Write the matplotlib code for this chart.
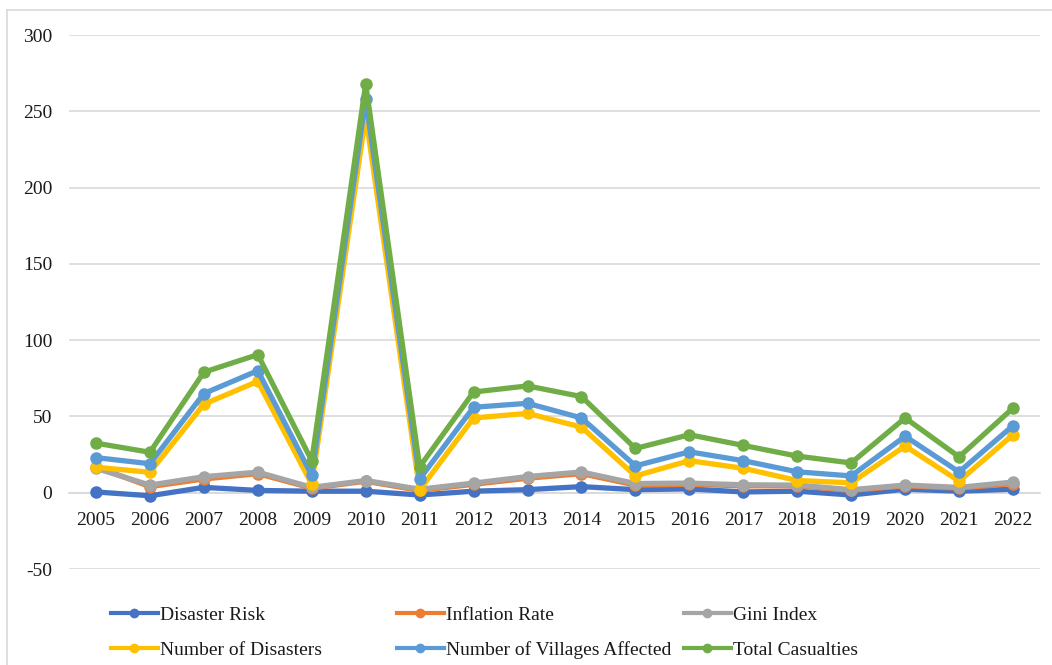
import matplotlib.pyplot as plt
from matplotlib.lines import Line2D

years = [str(y) for y in range(2005, 2023)]
disaster_risk = [0.5, -2, 3.5, 1.5, 1, 1, -1.5, 1, 2, 4, 2, 2.5, 0.5, 1, -1.5, 2.3, 1, 2.3]
inflation_rate = [17, 4, 9, 12.5, 3, 7.5, 1.5, 5.5, 9.5, 12.5, 5, 5.5, 4.5, 4.5, 1.5, 4.5, 3, 6]
gini_index = [16, 5, 10.5, 13.5, 3.5, 8, 2.3, 6.3, 10.6, 13.6, 6, 6.3, 5.2, 5, 2, 5, 3.5, 7]
num_disasters = [16.7, 13.4, 58, 73, 5.6, 247, 1.8, 49, 52, 43, 11, 21, 16, 8, 6.5, 30.6, 7.6, 38]
villages_affected = [23, 19, 65, 80, 11.4, 258, 9, 56, 58.6, 49, 17.6, 26.8, 21, 13.7, 11, 37, 13.6, 44]
total_casualties = [32.5, 26.5, 79, 90.5, 21, 268, 17, 66, 70, 63, 29, 38, 31, 24, 19.5, 49, 23.5, 55.5]

series = [
    ("Disaster Risk", disaster_risk, "#4472C4"),
    ("Inflation Rate", inflation_rate, "#ED7D31"),
    ("Gini Index", gini_index, "#A5A5A5"),
    ("Number of Disasters", num_disasters, "#FFC000"),
    ("Number of Villages Affected", villages_affected, "#5B9BD5"),
    ("Total Casualties", total_casualties, "#70AD47"),
]

plt.rcParams['font.family'] = ['Liberation Serif', 'DejaVu Serif']
plt.rcParams['axes.unicode_minus'] = False
W, H = 1052, 665
FS = 14
fig = plt.figure(figsize=(W / 100, H / 100), dpi=100)
ax = fig.add_axes([69 / W, 1 - 569 / H, (1040 - 69) / W, (569 - 35) / H])

x = list(range(len(years)))
for name, vals, color in series:
    ax.plot(x, vals, color=color, lw=3.8, marker='o', ms=8, solid_joinstyle='round', zorder=3)

ax.set_xlim(-0.5, len(years) - 0.5)
ax.set_ylim(-50, 300)
ax.set_yticks(range(-50, 301, 50))
ax.grid(axis='y', color='#d9d9d9', lw=1.2)
ax.set_axisbelow(True)
for side in ['top', 'right', 'left']:
    ax.spines[side].set_visible(False)
ax.spines['bottom'].set_position(('data', 0))
ax.spines['bottom'].set_color('#d9d9d9')
ax.spines['bottom'].set_linewidth(1.2)
ax.set_xticks(x)
ax.set_xticklabels(years)
ax.tick_params(axis='x', length=0, pad=14, labelsize=FS, colors='#1a1a1a')
ax.tick_params(axis='y', length=0, pad=12, labelsize=FS, colors='#1a1a1a')

# legend laid out as three columns of two rows
col_x = [111, 397, 684]
for k in range(3):
    hs = []
    for name, vals, color in (series[k], series[k + 3]):
        hs.append(Line2D([], [], color=color, lw=3, marker='o', ms=6, label=name))
    leg = fig.legend(handles=hs, loc='upper left', bbox_to_anchor=(col_x[k] / W, 1 - 606 / H),
                     frameon=False, fontsize=FS, handlelength=2.4, handletextpad=0.1,
                     labelspacing=0.9, borderpad=0, borderaxespad=0)
    for t in leg.get_texts():
        t.set_color('#1a1a1a')

# outer chart border (top and left edges visible)
fig.add_artist(Line2D([7 / W, 1], [1 - 10 / H, 1 - 10 / H], transform=fig.transFigure, color='#d9d9d9', lw=1.2))
fig.add_artist(Line2D([7 / W, 7 / W], [0, 1 - 10 / H], transform=fig.transFigure, color='#d9d9d9', lw=1.2))

fig.savefig('out.png', dpi=100)
